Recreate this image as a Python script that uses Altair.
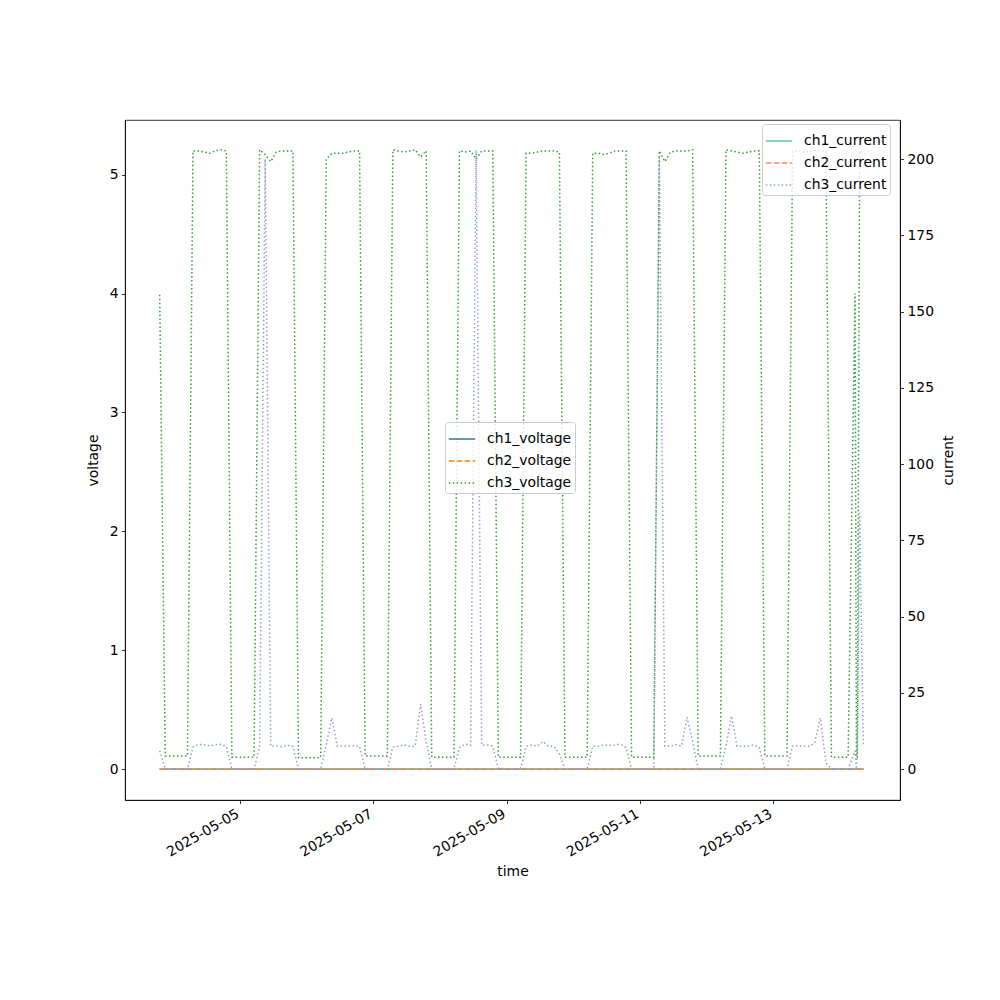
import altair as alt
import pandas as pd

# ---------------- data ----------------
# regular 2-hour samples from 2025-05-03 19:00 to 2025-05-14 03:00, then a few irregular final samples
grid_start = "2025-05-03 19:00"
grid_end = "2025-05-14 03:00"
extra_times = ["2025-05-14 05:30", "2025-05-14 06:00", "2025-05-14 06:20",
               "2025-05-14 07:10", "2025-05-14 08:30"]

ch3_voltage = [
    3.99,                                          # 05-03 19:00
    0.11, 0.11, 0.11, 0.11, 0.11,                  # night
    5.20, 5.20, 5.19, 5.18, 5.20, 5.21, 5.20,      # 05-04 day
    0.10, 0.10, 0.10, 0.10, 0.10,
    5.21, 5.17, 5.11, 5.19, 5.20, 5.20, 5.20,      # 05-05
    0.095, 0.095, 0.095, 0.095, 0.095,
    5.13, 5.18, 5.18, 5.18, 5.19, 5.20, 5.20,      # 05-06
    0.11, 0.11, 0.11, 0.11, 0.11,
    5.21, 5.20, 5.19, 5.20, 5.21, 5.15, 5.20,      # 05-07
    0.10, 0.10, 0.10, 0.10, 0.10,
    5.20, 5.19, 5.20, 5.13, 5.20, 5.20, 5.20,      # 05-08
    0.10, 0.10, 0.10, 0.10, 0.10,
    5.18, 5.18, 5.19, 5.20, 5.20, 5.20, 5.19,      # 05-09
    0.10, 0.10, 0.10, 0.10, 0.10,
    5.18, 5.18, 5.17, 5.18, 5.20, 5.20, 5.20,      # 05-10
    0.10, 0.10, 0.10, 0.10, 0.10,
    5.20, 5.11, 5.19, 5.20, 5.20, 5.20, 5.21,      # 05-11
    0.11, 0.11, 0.11, 0.11, 0.11,
    5.21, 5.20, 5.19, 5.18, 5.19, 5.20, 5.20,      # 05-12
    0.11, 0.11, 0.11, 0.11, 0.11,
    5.20, 5.20, 5.19, 5.20, 5.20, 5.20, 5.20,      # 05-13
    0.10, 0.10, 0.10, 0.10,                        # night to 05-14 03:00
    4.00, 0.10, 0.10, 5.20, 5.18,                  # final irregular samples
]

ch3_current = [
    6.0,
    0.0, 0.0, 0.0, 0.0, 0.0,
    7.2, 8.1, 8.0, 7.6, 8.0, 8.1, 7.4,             # 05-04
    0.0, 0.0, 0.0, 0.0, 0.0,
    7.2, 200.0, 7.5, 7.6, 7.3, 7.8, 7.4,           # 05-05
    0.0, 0.0, 0.0, 0.0, 0.0,
    8.0, 16.8, 7.5, 7.6, 7.5, 7.6, 7.5,            # 05-06
    0.0, 0.0, 0.0, 0.0, 0.0,
    7.2, 7.5, 7.9, 7.5, 7.5, 21.3, 9.0,            # 05-07
    0.0, 0.0, 0.0, 0.0, 0.0,
    7.0, 8.2, 7.8, 203.0, 7.9, 7.9, 7.5,           # 05-08
    0.0, 0.0, 0.0, 0.0, 0.0,
    7.5, 7.9, 7.5, 9.0, 7.5, 7.5, 5.0,             # 05-09
    0.0, 0.0, 0.0, 0.0, 0.0,
    7.5, 7.5, 7.9, 7.8, 7.9, 8.2, 7.0,             # 05-10
    0.0, 0.0, 0.0, 0.0, 0.0,
    201.0, 7.5, 7.5, 8.0, 7.5, 17.0, 9.0,          # 05-11
    0.0, 0.0, 0.0, 0.0, 0.0,
    7.5, 17.4, 7.5, 7.5, 7.5, 7.9, 7.0,            # 05-12
    0.0, 0.0, 0.0, 0.0, 0.0,
    7.5, 7.7, 7.5, 7.5, 8.6, 16.8, 2.0,            # 05-13
    0.0, 0.0, 0.0, 0.0,
    6.0, 0.0, 8.0, 84.0, 8.0,
]

times = [t.strftime("%Y-%m-%dT%H:%M:%S") for t in pd.date_range(grid_start, grid_end, freq="2h")]
times += [pd.Timestamp(t).strftime("%Y-%m-%dT%H:%M:%S") for t in extra_times]
n = len(times)
assert len(ch3_voltage) == n and len(ch3_current) == n, (n, len(ch3_voltage), len(ch3_current))

ch1_voltage = [0.0] * n
ch2_voltage = [0.0] * n
ch1_current = [0.0] * n
ch2_current = [0.0] * n

volt_names = ["ch1_voltage", "ch2_voltage", "ch3_voltage"]
curr_names = ["ch1_current", "ch2_current", "ch3_current"]
volt_colors = ["#1f77b4", "#ff7f0e", "#2ca02c"]
curr_colors = ["#66c2a5", "#fc8d62", "#8da0cb"]
dashes = [[1, 0], [5.55, 2.4], [1.5, 2.475]]

volt_rows = []
for name, vals in zip(volt_names, [ch1_voltage, ch2_voltage, ch3_voltage]):
    for t, v in zip(times, vals):
        volt_rows.append({"time": t, "series": name, "value": v})
curr_rows = []
for name, vals in zip(curr_names, [ch1_current, ch2_current, ch3_current]):
    for t, v in zip(times, vals):
        curr_rows.append({"time": t, "series": name, "value": v})
volt_df = pd.DataFrame(volt_rows)
curr_df = pd.DataFrame(curr_rows)

FONT = "DejaVu Sans"
FS = 13.9

x_enc = alt.X(
    "time:T",
    scale=alt.Scale(domain=[alt.DateTime(year=2025, month=5, date=3, hours=6, minutes=30),
                            alt.DateTime(year=2025, month=5, date=14, hours=21, minutes=42)]),
    axis=alt.Axis(
        title="time",
        values=[alt.DateTime(year=2025, month=5, date=d) for d in [5, 7, 9, 11, 13]],
        format="%Y-%m-%d",
        labelAngle=-30, labelAlign="right", labelBaseline="top",
        labelPadding=3, labelOffset=-6, titlePadding=6,
    ),
)


def legend(x, y):
    return alt.Legend(
        title=None, orient="none", legendX=x, legendY=y,
        fillColor="rgba(255,255,255,0.8)", strokeColor="#cccccc", cornerRadius=3,
        padding=3, symbolType="stroke", symbolSize=700, symbolStrokeWidth=1.5,
        labelFont=FONT, labelFontSize=FS, labelOffset=11, rowPadding=1,
    )


volt = alt.Chart(volt_df).mark_line(strokeWidth=1.5, strokeCap="butt").encode(
    x=x_enc,
    y=alt.Y("value:Q", scale=alt.Scale(domain=[-0.26, 5.46], nice=False, zero=False),
            axis=alt.Axis(title="voltage", values=[0, 1, 2, 3, 4, 5], titlePadding=9)),
    color=alt.Color("series:N", scale=alt.Scale(domain=volt_names, range=volt_colors),
                    legend=legend(320, 302)),
    strokeDash=alt.StrokeDash("series:N", scale=alt.Scale(domain=volt_names, range=dashes),
                              legend=legend(320, 302)),
    order=alt.Order("time:T"),
)

curr = alt.Chart(curr_df).mark_line(strokeWidth=1.5, strokeCap="butt").encode(
    x=x_enc,
    y=alt.Y("value:Q", scale=alt.Scale(domain=[-10.15, 212.8], nice=False, zero=False),
            axis=alt.Axis(title="current", orient="right", values=list(range(0, 201, 25)),
                          titleAngle=270, titleBaseline="top", titlePadding=8)),
    color=alt.Color("series:N", scale=alt.Scale(domain=curr_names, range=curr_colors),
                    legend=legend(637, 4)),
    strokeDash=alt.StrokeDash("series:N", scale=alt.Scale(domain=curr_names, range=dashes),
                              legend=legend(637, 4)),
    order=alt.Order("time:T"),
)

chart = alt.layer(volt, curr).resolve_scale(
    y="independent", color="independent", strokeDash="independent"
).properties(
    width=775, height=680,
    autosize=alt.AutoSizeParams(type="none"),
    padding={"left": 117, "top": 112, "right": 92, "bottom": 180},
).configure_axis(
    grid=False, domainColor="black", domainWidth=0.8, tickColor="black", tickWidth=0.8,
    tickSize=3.5, labelFont=FONT, labelFontSize=FS, labelColor="black", labelPadding=3.5,
    titleFont=FONT, titleFontSize=FS, titleFontWeight="normal", titleColor="black",
).configure_view(
    stroke="black", strokeWidth=0.8,
)

chart.save("out.html", embed_options={"renderer": "svg", "actions": False})
